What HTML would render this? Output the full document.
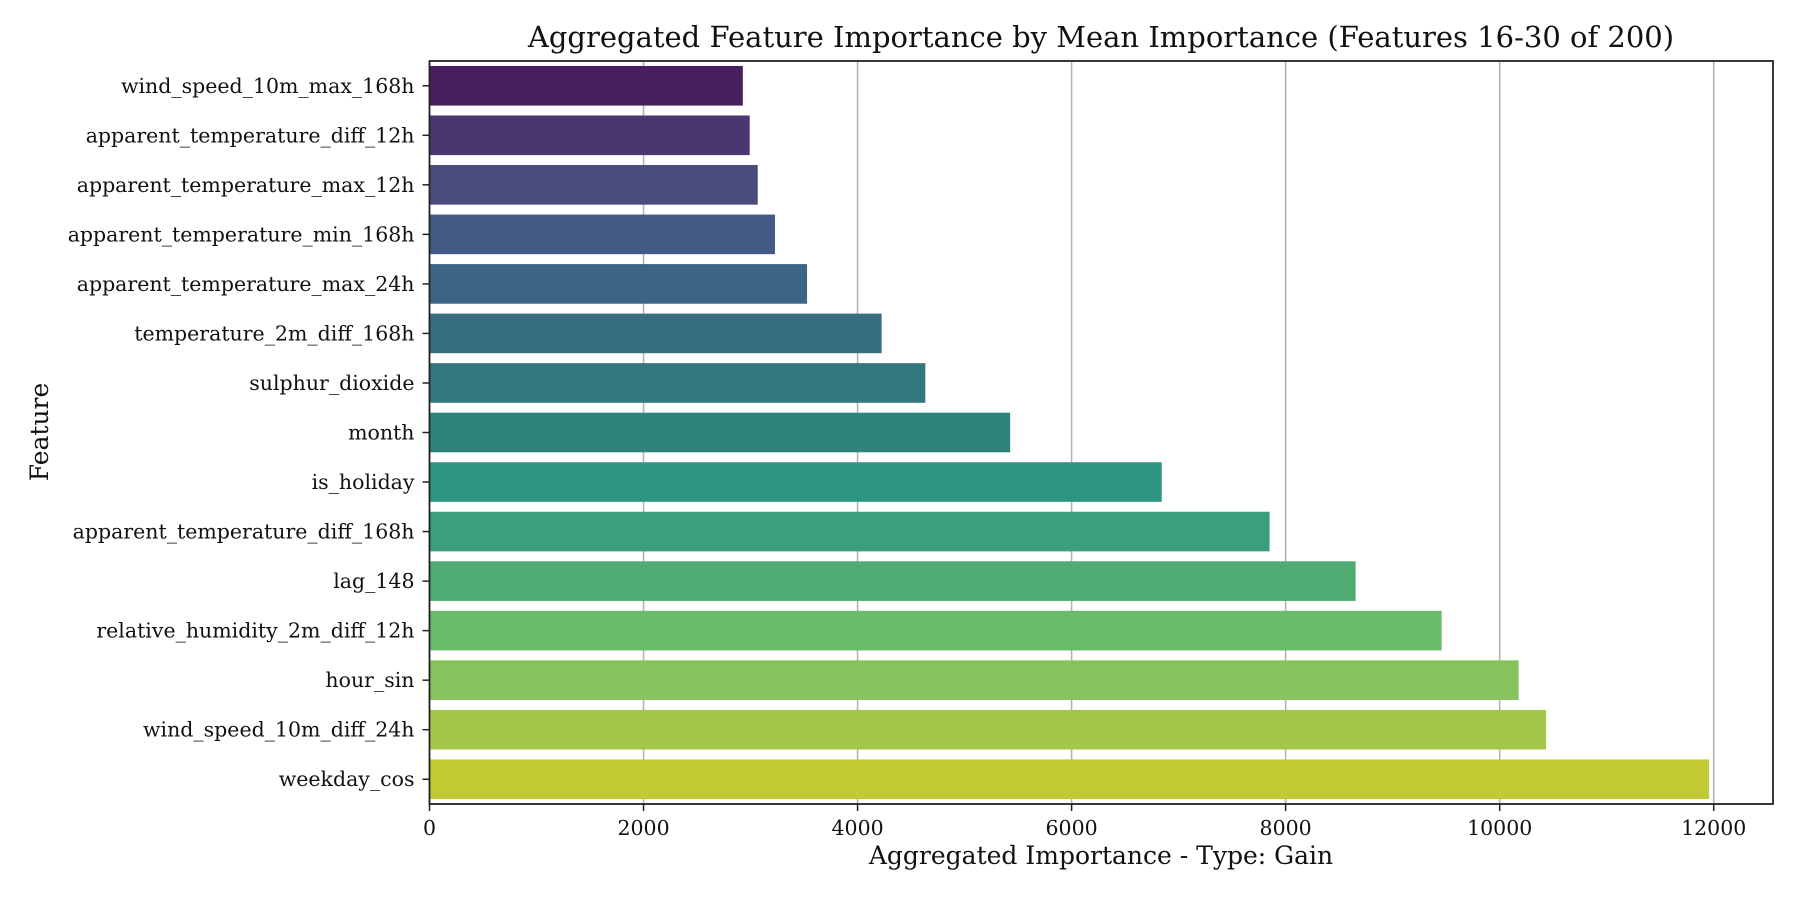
<!DOCTYPE html>
<html><head><meta charset="utf-8"><style>
html,body{margin:0;padding:0;background:#fff}
svg text{font-family:"DejaVu Serif","Liberation Serif",serif;fill:#111}
</style></head><body>
<svg id="chart" width="1800" height="900" xmlns="http://www.w3.org/2000/svg">
<text x="1101" y="47" text-anchor="middle" font-size="29">Aggregated Feature Importance by Mean Importance (Features 16-30 of 200)</text>
<g id="grid"></g>
<g id="bars"></g>
<g id="axes"></g>
<text x="1101" y="864" text-anchor="middle" font-size="25">Aggregated Importance - Type: Gain</text>
<text transform="translate(48,432) rotate(-90)" text-anchor="middle" font-size="25">Feature</text>
</svg>
<script>
const features = ["wind_speed_10m_max_168h","apparent_temperature_diff_12h","apparent_temperature_max_12h","apparent_temperature_min_168h","apparent_temperature_max_24h","temperature_2m_diff_168h","sulphur_dioxide","month","is_holiday","apparent_temperature_diff_168h","lag_148","relative_humidity_2m_diff_12h","hour_sin","wind_speed_10m_diff_24h","weekday_cos"];
const importance = [2928,2992,3067,3228,3528,4225,4633,5426,6842,7850,8654,9458,10177,10434,11957];
const xTicks = [0,2000,4000,6000,8000,10000,12000];
const colors = ["#481f5e","#4a3671","#484b7c","#435986","#3c6585","#386f80","#33787e","#2d847c","#2e9680","#3a9f7a","#4eac74","#69bc6a","#87c35d","#a3c748","#c2ca33"];

const NS="http://www.w3.org/2000/svg";
const L=429.5,R=1773,T=61,B=804,xMax=12554;
const x=v=>L+v/xMax*(R-L);
const band=(B-T)/features.length;
const yc=i=>T+band*(i+0.5);
function mk(tag,attrs,parent){const e=document.createElementNS(NS,tag);for(const k in attrs)e.setAttribute(k,attrs[k]);parent.appendChild(e);return e;}
const grid=document.getElementById('grid'),bars=document.getElementById('bars'),axes=document.getElementById('axes');
xTicks.forEach(t=>{
  const g=mk('line',{x1:x(t),x2:x(t),y1:T,y2:B,stroke:'#b0b0b0','stroke-width':1.5},grid);
  
  
  const tk=mk('line',{x1:x(t),x2:x(t),y1:B,y2:B+7,stroke:'#222','stroke-width':1.5},axes);
  
  
  const lb=mk('text',{x:x(t),y:B+31,'text-anchor':'middle','font-size':20.5},axes);
  lb.textContent=t;
  
  
});
features.forEach((f,i)=>{
  const h=band*0.8;
  const r=mk('rect',{x:x(0),y:yc(i)-h/2,width:x(importance[i])-x(0),height:h,fill:colors[i]},bars);
  
  
  const tk=mk('line',{x1:L-7,x2:L,y1:yc(i),y2:yc(i),stroke:'#222','stroke-width':1.5},axes);
  
  
  const lb=mk('text',{x:L-15,y:yc(i)+7,'text-anchor':'end','font-size':20.5},axes);
  lb.textContent=f;
  
  
});
const fr=mk('rect',{x:L,y:T,width:R-L,height:B-T,fill:'none',stroke:'#222','stroke-width':1.8},axes);


</script>
</body></html>
